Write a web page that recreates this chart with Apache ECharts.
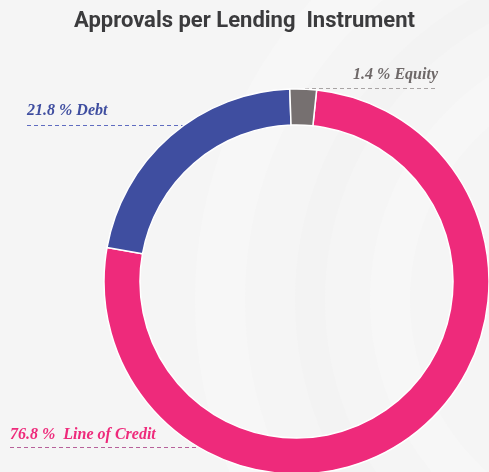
<!DOCTYPE html>
<html><head><meta charset="utf-8">
<script src="https://cdn.jsdelivr.net/npm/echarts@6/dist/echarts.min.js"></script>
<style>html,body{margin:0;padding:0;background:#f5f5f5}#c{width:489px;height:472px}</style>
</head><body><div id="c"></div>
<script>
const titleText = 'Approvals per Lending  Instrument';
const categories = ['Line of Credit', 'Debt', 'Equity'];
const values = [76.8, 21.8, 1.4];
const separators = ['%  ', '% ', '% '];
const colors = ['#EE2A7B', '#3F4EA0', '#767070'];
const labelColors = ['#EE2A7B', '#3F4EA0', '#6E6868'];
const lineColors = ['#B7619A', '#5F6CC0', '#A8A4A4'];

// label placement (layout only)
const labelPlacement = [
  {x: 10, y: 435, align: 'left', pts: [[10, 447.5], [215, 447.5]]},
  {x: 27, y: 111, align: 'left', pts: [[27, 125.5], [184, 125.5]]},
  {x: 438, y: 75, align: 'right', pts: [[305, 88.5], [438, 88.5]]}
];

const chart = echarts.init(document.getElementById('c'), null, {renderer: 'canvas'});
const data = categories.map((name, i) => ({
  name, value: values[i],
  itemStyle: {color: colors[i]},
  label: {color: labelColors[i]},
  labelLine: {lineStyle: {color: lineColors[i]}}
}));

chart.setOption({
  backgroundColor: '#f5f5f5',
  animation: false,
  graphic: [
    {type: 'circle', silent: true, z: -10, shape: {cx: 640, cy: 300, r: 420}, style: {fill: 'none', stroke: '#f7f7f7', lineWidth: 50}},
    {type: 'circle', silent: true, z: -10, shape: {cx: 640, cy: 300, r: 330}, style: {fill: 'none', stroke: '#f3f3f3', lineWidth: 30}},
    {type: 'circle', silent: true, z: -10, shape: {cx: 640, cy: 300, r: 250}, style: {fill: 'none', stroke: '#f7f7f7', lineWidth: 40}}
  ],
  title: {
    text: titleText,
    left: 'center',
    top: 5,
    textStyle: {fontFamily: 'Roboto', fontWeight: 'bold', fontSize: 22, color: '#3b3b3d'}
  },
  series: [{
    type: 'pie',
    center: [296.5, 281.5],
    radius: [156.5, 192.5],
    startAngle: 84,
    clockwise: true,
    minAngle: 8,
    avoidLabelOverlap: false,
    itemStyle: {borderColor: '#ffffff', borderWidth: 1.5},
    label: {
      show: true,
      position: 'outside',
      fontFamily: 'Liberation Serif',
      fontStyle: 'italic',
      fontWeight: 'bold',
      fontSize: 16,
      padding: 0,
      formatter: p => p.value + ' ' + separators[p.dataIndex] + p.name
    },
    labelLine: {show: true, length: 10, length2: 10, lineStyle: {type: [4, 3], width: 1}},
    labelLayout: function (params) {
      const L = labelPlacement[params.dataIndex];
      return {x: L.x, y: L.y, align: L.align, verticalAlign: 'middle', labelLinePoints: L.pts};
    },
    emphasis: {disabled: true},
    data: data
  }]
});
</script>
</body></html>
